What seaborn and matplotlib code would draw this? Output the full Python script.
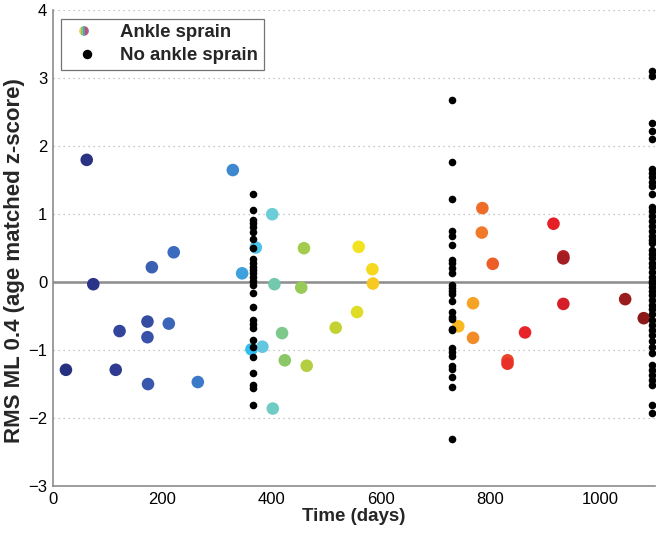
import numpy as np
import pandas as pd
import matplotlib
matplotlib.use("Agg")
import matplotlib.pyplot as plt
import seaborn as sns
from matplotlib.legend_handler import HandlerBase
from matplotlib.patches import Circle, Rectangle
from matplotlib.lines import Line2D
from matplotlib.colors import LinearSegmentedColormap

# ---------------- data ----------------
# Ankle sprain subjects (in colour order): time (days) and z-score
sprain_days = [24, 62, 74, 115, 122, 173, 173, 174, 181, 212, 221, 265,
               329, 346, 363, 371, 383, 401, 402, 405, 419, 424, 454, 459,
               464, 517, 556, 559, 584, 585, 741, 768, 768, 784, 785, 804,
               831, 831, 863, 915, 933, 933, 933, 1046, 1080]
sprain_values = [-1.29, 1.80, -0.03, -1.29, -0.72, -0.58, -0.81, -1.50, 0.22,
                 -0.61, 0.44, -1.47, 1.65, 0.13, -0.99, 0.51, -0.95, 1.00,
                 -1.86, -0.03, -0.75, -1.15, -0.08, 0.50, -1.23, -0.67, -0.44,
                 0.52, 0.19, -0.02, -0.65, -0.31, -0.82, 0.73, 1.09, 0.27,
                 -1.15, -1.20, -0.74, 0.86, -0.32, 0.38, 0.35, -0.25, -0.53]

# No ankle sprain subjects at 1, 2 and 3 years
year1_values = [1.30, 1.06, 0.91, 0.87, 0.81, 0.74, 0.63, 0.50, 0.34, 0.28,
                0.22, 0.18, 0.13, 0.07, 0.01, -0.04, -0.16, -0.37, -0.56,
                -0.62, -0.68, -0.85, -0.96, -1.10, -1.34, -1.51, -1.56, -1.81]
year2_values = [2.68, 1.77, 1.22, 0.76, 0.68, 0.54, 0.32, 0.28, 0.21, 0.13,
                -0.04, -0.08, -0.13, -0.18, -0.28, -0.44, -0.51, -0.54, -0.69,
                -0.71, -0.97, -1.03, -1.08, -1.23, -1.28, -1.40, -1.55, -2.31]
year3_values = [3.11, 3.04, 2.34, 2.22, 2.10, 1.67, 1.61, 1.55, 1.48, 1.42,
                1.30, 1.11, 1.04, 0.97, 0.90, 0.83, 0.75, 0.68, 0.62, 0.57,
                0.47, 0.41, 0.35, 0.28, 0.22, 0.15, 0.08, 0.02, -0.01, -0.07,
                -0.13, -0.19, -0.26, -0.33, -0.40, -0.47, -0.55, -0.63, -0.71,
                -0.78, -0.86, -0.95, -1.04, -1.22, -1.29, -1.37, -1.44, -1.51,
                -1.81, -1.93]
year_days = [365, 730, 1095]

x_ticks = [0, 200, 400, 600, 800, 1000]
y_ticks = [-3, -2, -1, 0, 1, 2, 3, 4]

# ---------------- frames ----------------
sprain_df = pd.DataFrame({"days": sprain_days, "z": sprain_values})
sprain_df["order"] = np.arange(len(sprain_df))

no_df = pd.DataFrame({
    "days": [year_days[0]] * len(year1_values) + [year_days[1]] * len(year2_values)
            + [year_days[2]] * len(year3_values),
    "z": year1_values + year2_values + year3_values,
})

# ---------------- style ----------------
sns.set_style("white")
plt.rcParams["font.family"] = ["Liberation Sans", "DejaVu Sans"]

# jet-like palette as printed (muted, CMYK-like)
print_jet = LinearSegmentedColormap.from_list("print_jet", [
    (0.00, "#27307f"), (0.05, "#2b3589"), (0.10, "#3448a0"),
    (0.17, "#3a5cb0"), (0.23, "#3a6cc0"), (0.26, "#3c80cc"),
    (0.28, "#4090d2"), (0.30, "#3ca8e0"), (0.32, "#30c0f0"),
    (0.36, "#62c6e4"), (0.39, "#6ccfd4"), (0.43, "#72c8b0"),
    (0.46, "#80c884"), (0.48, "#8cc862"), (0.52, "#a2cc4e"),
    (0.57, "#c4d232"), (0.60, "#e8e024"), (0.62, "#f4e41e"),
    (0.66, "#f8c820"), (0.69, "#f8b420"), (0.72, "#f39428"),
    (0.76, "#f07428"), (0.80, "#ec5a28"), (0.83, "#e83a2a"),
    (0.87, "#e82228"), (0.90, "#e41c26"), (0.92, "#c8202a"),
    (0.95, "#a81c22"), (0.98, "#9a1c1e"), (1.00, "#8a1a1a"),
])

fig = plt.figure(figsize=(6.6, 5.35), dpi=100)
ax = fig.add_axes([0.080, 0.0916, 0.912, 0.889])

for yv in y_ticks:
    ax.axhline(yv, color="#b5b5b5", lw=0.9, ls=(0, (1, 3)), zorder=0)
ax.axhline(0, color="#8c8c8c", lw=1.8, zorder=1)

sns.scatterplot(data=sprain_df, x="days", y="z", hue="order", palette=print_jet,
                hue_norm=(0, len(sprain_df) - 1), s=82, linewidth=0,
                legend=False, ax=ax, zorder=3)
sns.scatterplot(data=no_df, x="days", y="z", color="black", s=30, linewidth=0,
                legend=False, ax=ax, zorder=4)

ax.set_xlim(0, 1100)
ax.set_ylim(-3, 4)
ax.set_xticks(x_ticks)
ax.set_yticks(y_ticks)
ax.tick_params(direction="in", length=4, color="#8c8c8c", labelsize=12,
               labelcolor="black", pad=4)
for side in ["top", "right"]:
    ax.spines[side].set_visible(False)
for side in ["left", "bottom"]:
    ax.spines[side].set_color("#8c8c8c")
    ax.spines[side].set_linewidth(1.2)

ax.set_xlabel("Time (days)", fontsize=13.5, fontweight="bold", labelpad=1)
ax.set_ylabel("RMS ML 0.4 (age matched z-score)", fontsize=16,
              fontweight="bold")
ax.yaxis.set_label_coords(-0.047, 0.475)


class RainbowProxy:
    pass


class RainbowDot(HandlerBase):
    def create_artists(self, legend, orig_handle, xdescent, ydescent,
                       width, height, fontsize, trans):
        cx = width / 2 - xdescent - 2
        cy = height / 2 - ydescent
        r = 3.5
        circ = Circle((cx, cy), r, transform=trans, facecolor="none",
                      edgecolor="none")
        stripe_cols = ["#f0c848", "#82c866", "#4a9ee0", "#dc4a44", "#8a66c4"]
        arts = [circ]
        w = 2 * r / len(stripe_cols)
        for i, c in enumerate(stripe_cols):
            rect = Rectangle((cx - r + i * w, cy - r), w, 2 * r,
                             facecolor=c, edgecolor="none", transform=trans)
            rect.set_clip_path(circ)
            arts.append(rect)
        return arts


h_sprain = RainbowProxy()
h_no = Line2D([], [], ls="none", marker="o", color="black", markersize=5.8)
leg = ax.legend([h_sprain, h_no], ["Ankle sprain", "No ankle sprain"],
                handler_map={RainbowProxy: RainbowDot()},
                loc="upper left", bbox_to_anchor=(0.007, 0.99),
                prop={"weight": "bold", "size": 13.4}, frameon=True,
                fancybox=False, edgecolor="#505050", borderpad=0.3,
                handlelength=2.2, handletextpad=0.7, labelspacing=0.32,
                borderaxespad=0.2)
leg.get_frame().set_linewidth(0.9)

fig.savefig("out.png", dpi=100)
